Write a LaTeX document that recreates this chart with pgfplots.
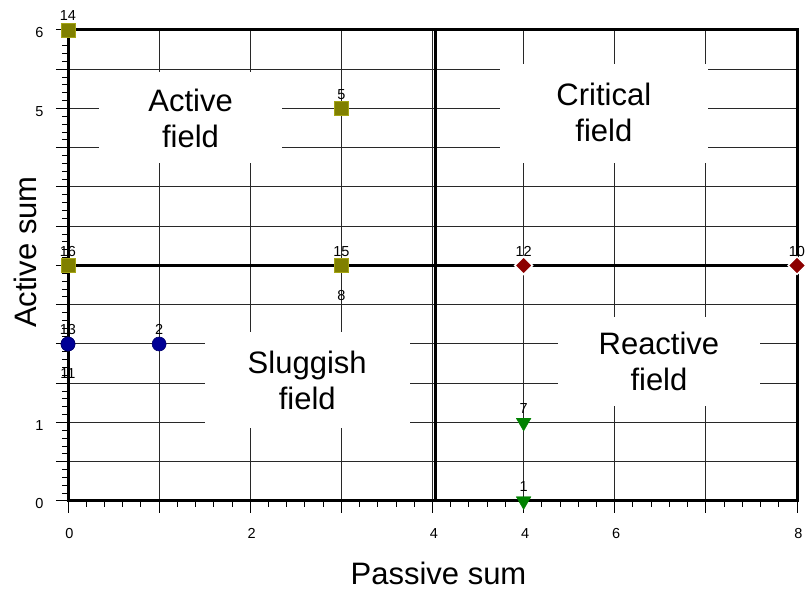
\documentclass[border=0pt]{standalone}
\usepackage{fontspec}
\setmainfont{Liberation Sans}
\usepackage{pgfplots}
\pgfplotsset{compat=1.18}
\usepackage{pgfplotstable}

\definecolor{sqfill}{RGB}{128,128,0}
\definecolor{sqedge}{RGB}{165,165,20}
\definecolor{cifill}{RGB}{0,0,150}
\definecolor{cedge}{RGB}{0,0,110}
\definecolor{dmfill}{RGB}{140,0,0}
\definecolor{trfill}{RGB}{0,130,0}
\definecolor{gridc}{RGB}{40,40,40}

% x y label label-offset(pt)
\pgfplotstableread{
x y lab dy
0 6 14 9
3 5 5 9
0 3 16 9
3 3 15 9
3 3 8 -35
}\squares
\pgfplotstableread{
x y lab dy
0 2 13 9
0 2 11 -35
1 2 2 9
}\circles
\pgfplotstableread{
x y lab dy
5 3 12 9
8 3 10 9
}\diamonds
\pgfplotstableread{
x y lab dy
5 1 7 9
5 0 1 9
}\triangles

\newcommand{\bigtxt}{\fontsize{31}{36}\selectfont}
\newcommand{\smalltxt}{\fontsize{14.5}{14.5}\selectfont}

\pgfplotsset{
    labelled/.style={
        only marks,
        nodes near coords,
        point meta=explicit symbolic,
        visualization depends on={\thisrow{dy} \as \dy},
        nodes near coords style={font=\smalltxt, inner sep=0pt, anchor=base, yshift=\dy},
    },
}

\begin{document}
\begin{tikzpicture}
\begin{axis}[
    name=ax,
    scale only axis,
    width=729pt, height=471pt,
    xmin=0, xmax=8, ymin=0, ymax=6,
    clip=false,
    axis line style={line width=3pt},
    tick pos=left,
    tick align=outside,
    xtick={0,...,8},
    xticklabels={0,,2,,4,4,6,,8},
    minor x tick num=4,
    ytick={0,0.5,...,6},
    yticklabels={0,,1,,2,,3,,4,,5,,6},
    minor y tick num=4,
    major tick length=12pt,
    minor tick length=6pt,
    tick style={black, line width=1pt},
    grid=major,
    grid style={gridc, line width=1pt},
    ticklabel style={font=\smalltxt},
    xticklabel style={yshift=-12pt, xshift=1.5pt},
    yticklabel style={xshift=-9pt, yshift=-3pt},
    /pgf/number format/assume math mode=true,
]
% white boxes behind the field names
\fill[white] (axis cs:0.34,4.31) rectangle (axis cs:2.35,5.47);
\fill[white] (axis cs:4.74,4.31) rectangle (axis cs:7.02,5.57);
\fill[white] (axis cs:1.50,0.93) rectangle (axis cs:3.75,2.15);
\fill[white] (axis cs:5.38,1.21) rectangle (axis cs:7.59,2.35);
\node[font=\bigtxt, align=center] at (axis cs:1.345,4.87) {Active\\field};
\node[font=\bigtxt, align=center] at (axis cs:5.88,4.95) {Critical\\field};
\node[font=\bigtxt, align=center] at (axis cs:2.625,1.54) {Sluggish\\field};
\node[font=\bigtxt, align=center] at (axis cs:6.485,1.78) {Reactive\\field};

% mean lines
\addplot[black, line width=3.3pt, no marks] coordinates {(0,3) (8,3)};
\addplot[black, line width=3.3pt, no marks] coordinates {(4.03,0) (4.03,6)};

\addplot[labelled, mark=square*, mark size=7pt,
    mark options={fill=sqfill, draw=sqedge, line width=0.8pt}]
    table[x=x, y=y, meta=lab] {\squares};
\addplot[labelled, mark=*, mark size=7pt,
    mark options={fill=cifill, draw=cedge, line width=0.6pt}]
    table[x=x, y=y, meta=lab] {\circles};
\addplot[labelled, mark=square*, mark size=6.3pt,
    mark options={fill=dmfill, draw=white, line width=1.5pt, rotate=45}]
    table[x=x, y=y, meta=lab] {\diamonds};
\addplot[labelled, mark=triangle*, mark size=8.5pt,
    mark options={fill=trfill, draw=trfill, rotate=180}]
    table[x=x, y=y, meta=lab] {\triangles};
\end{axis}

\node[font=\bigtxt, anchor=base, inner sep=0pt] at ([xshift=6pt, yshift=-84pt]ax.south) {Passive sum};
\node[font=\bigtxt, rotate=90, fill=white, inner xsep=24pt, inner ysep=9pt]
    at ([xshift=-43pt, yshift=13.5pt]ax.west) {Active sum};

\pgfresetboundingbox
\path[use as bounding box] ([xshift=-68pt, yshift=-90pt]ax.south west) rectangle ++(808pt,591pt);
\end{tikzpicture}
\end{document}
